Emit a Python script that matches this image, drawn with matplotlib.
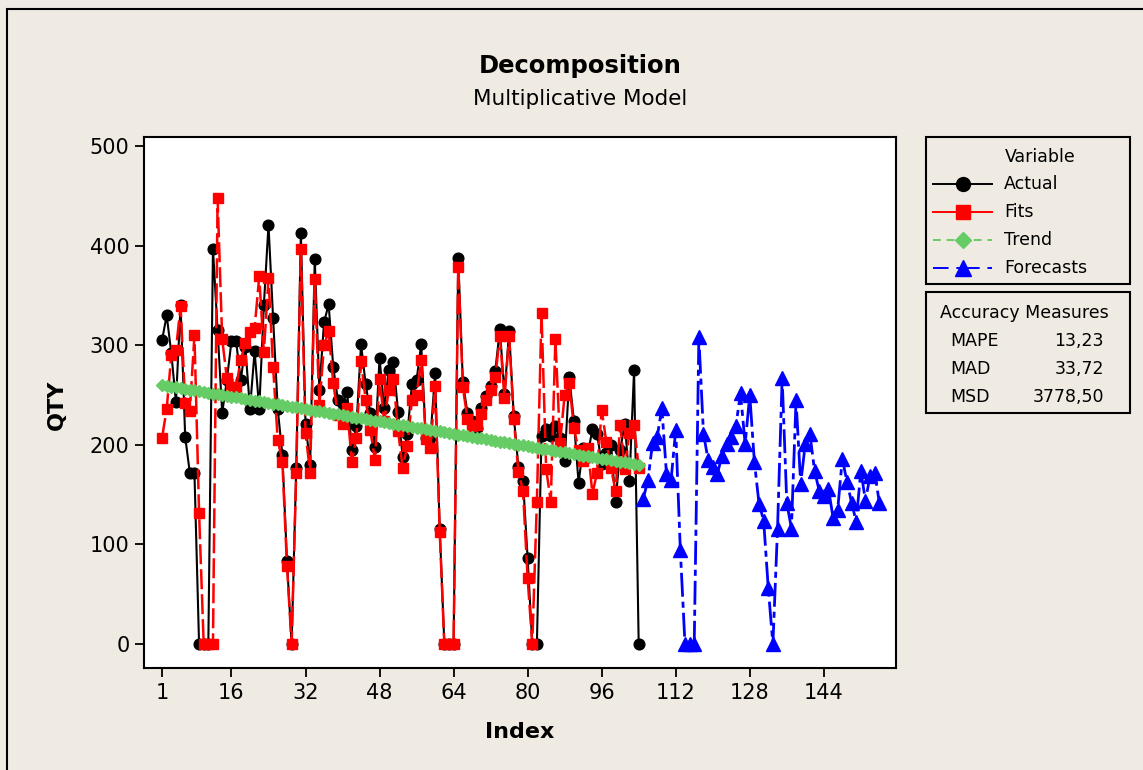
import matplotlib.pyplot as plt
from matplotlib.lines import Line2D
from matplotlib.patches import Rectangle

# observed series, index 1..104
actual = [
    305, 330, 292, 243, 340, 208, 172, 172, 0, 0, 0, 397, 315, 232, 265, 304,
    304, 265, 298, 236, 294, 236, 340, 421, 327, 236, 190, 83, 0, 177, 413, 221,
    180, 387, 255, 323, 341, 278, 245, 241, 253, 195, 219, 301, 261, 232, 198, 287,
    237, 275, 283, 233, 188, 211, 261, 265, 301, 207, 207, 272, 116, 0, 0, 0,
    388, 263, 232, 224, 217, 237, 249, 259, 274, 316, 251, 314, 229, 178, 164, 86,
    0, 0, 209, 216, 209, 219, 207, 184, 268, 224, 162, 197, 190, 216, 211, 181,
    192, 200, 143, 195, 221, 164, 275, 0,
]

fits = [
    207, 236, 290, 295, 339, 242, 234, 310, 132, 0, 0, 0, 448, 306, 267, 258,
    258, 285, 302, 313, 317, 369, 293, 367, 278, 205, 183, 78, 0, 172, 397, 212,
    172, 366, 240, 300, 314, 262, 230, 221, 237, 183, 207, 284, 245, 215, 185, 266,
    224, 255, 266, 214, 177, 199, 245, 250, 285, 206, 197, 259, 113, 0, 0, 0,
    379, 258, 226, 219, 220, 231, 245, 255, 268, 309, 247, 309, 226, 173, 154, 66,
    0, 143, 332, 176, 143, 306, 202, 250, 262, 217, 195, 184, 197, 151, 172, 235,
    203, 177, 154, 220, 176, 212, 220, 177,
]

trend = [
    260.0, 259.2, 258.4, 257.7, 256.9, 256.1, 255.3, 254.6, 253.8, 253.0,
    252.2, 251.5, 250.7, 249.9, 249.1, 248.3, 247.6, 246.8, 246.0, 245.2,
    244.5, 243.7, 242.9, 242.1, 241.4, 240.6, 239.8, 239.0, 238.3, 237.5,
    236.7, 235.9, 235.1, 234.4, 233.6, 232.8, 232.0, 231.3, 230.5, 229.7,
    228.9, 228.2, 227.4, 226.6, 225.8, 225.0, 224.3, 223.5, 222.7, 221.9,
    221.2, 220.4, 219.6, 218.8, 218.1, 217.3, 216.5, 215.7, 215.0, 214.2,
    213.4, 212.6, 211.8, 211.1, 210.3, 209.5, 208.7, 208.0, 207.2, 206.4,
    205.6, 204.9, 204.1, 203.3, 202.5, 201.7, 201.0, 200.2, 199.4, 198.6,
    197.9, 197.1, 196.3, 195.5, 194.8, 194.0, 193.2, 192.4, 191.7, 190.9,
    190.1, 189.3, 188.5, 187.8, 187.0, 186.2, 185.4, 184.7, 183.9, 183.1,
    182.3, 181.6, 180.8, 180.0,
]

# forecasts, index 105..156
forecasts = [
    146, 165, 202, 208, 237, 171, 165, 215, 94, 0, 0, 0, 308, 211, 185, 178,
    171, 189, 201, 208, 219, 252, 201, 250, 183, 141, 124, 56, 0, 116, 267, 142,
    116, 245, 161, 201, 211, 174, 154, 149, 156, 127, 135, 186, 163, 142, 123, 174,
    144, 169, 172, 142,
]

x_ticks = [1, 16, 32, 48, 64, 80, 96, 112, 128, 144]
y_ticks = [0, 100, 200, 300, 400, 500]

measure_names = ["MAPE", "MAD", "MSD"]
measure_values = ["13,23", "33,72", "3778,50"]

idx = list(range(1, len(actual) + 1))
idx_fc = list(range(len(actual) + 1, len(actual) + len(forecasts) + 1))

W, H = 1143, 770
BG = "#efebe2"

FIT_DASH = (0, (8, 2))
TREND_DASH = (0, (4, 3))
FC_DASH = (0, (8.6, 1.8, 2.2, 1.8))


def fx(x):
    return x / W


def fy(y):
    return 1 - y / H


fig = plt.figure(figsize=(W / 100, H / 100), dpi=100, facecolor=BG)
ax = fig.add_axes([fx(144), fy(668), fx(896) - fx(144), fy(137) - fy(668)])

ax.plot(idx, actual, color="black", lw=1.5, marker="o", ms=7.7, zorder=2)
ax.plot(idx, fits, color="#ff0000", lw=1.8, ls=FIT_DASH,
        marker="s", ms=7, mec="#ff0000", zorder=3)
ax.plot(idx, trend, color="#66cc66", lw=1.5, ls=TREND_DASH,
        marker="D", ms=6.6, mec="#66cc66", zorder=4)
ax.plot(idx_fc, forecasts, color="#0000ff", lw=2, ls=FC_DASH,
        marker="^", ms=9.5, mec="#0000ff", zorder=5)

ax.set_xlim(-2.9, 159.6)
ax.set_ylim(-24, 509)
ax.set_xticks(x_ticks)
ax.set_yticks(y_ticks)
ax.tick_params(direction="out", length=6.5, width=1.3, labelsize=15, pad=4)
for s in ax.spines.values():
    s.set_linewidth(1.5)

fig.text(fx(580), fy(66), "Decomposition", ha="center", va="center",
         fontsize=17.5, fontweight="bold")
fig.text(fx(580), fy(99), "Multiplicative Model", ha="center", va="center",
         fontsize=15.5)
fig.text(fx(520), fy(732), "Index", ha="center", va="center",
         fontsize=16, fontweight="bold")
fig.text(fx(57), fy(405), "QTY", ha="center", va="center", rotation=90,
         fontsize=16, fontweight="bold")

# outer frame (left and top edges)
fig.patches.append(Rectangle((fx(6.5), -0.1), 1.2, fy(9.5) + 0.1, fill=False,
                             ec="black", lw=1.5, transform=fig.transFigure))

# legend box
fig.patches.append(Rectangle((fx(926), fy(284)), fx(1130) - fx(926), fy(137) - fy(284),
                             fill=False, ec="black", lw=1.5, transform=fig.transFigure))
fig.text(fx(1005), fy(157), "Variable", ha="left", va="center", fontsize=12.5)

legend_rows = [
    ("Actual", "black", "-", "o", 10, 184),
    ("Fits", "#ff0000", "-", "s", 10, 212),
    ("Trend", "#66cc66", (0, (4, 3)), "D", 8.5, 240),
    ("Forecasts", "#0000ff", (0, (8, 4, 3, 1)), "^", 12, 268),
]
for label, col, style, mk, size, yr in legend_rows:
    fig.add_artist(Line2D([fx(933), fx(992)], [fy(yr), fy(yr)], color=col,
                          lw=1.4, ls=style, transform=fig.transFigure))
    fig.add_artist(Line2D([fx(962.5)], [fy(yr)], color=col, marker=mk, ms=size,
                          mec=col, transform=fig.transFigure))
    fig.text(fx(1004), fy(yr), label, ha="left", va="center", fontsize=12.5)

# accuracy measures box
fig.patches.append(Rectangle((fx(926), fy(413)), fx(1130) - fx(926), fy(292) - fy(413),
                             fill=False, ec="black", lw=1.5, transform=fig.transFigure))
fig.text(fx(940), fy(313), "Accuracy Measures", ha="left", va="center", fontsize=12.5)
for k, (name, val) in enumerate(zip(measure_names, measure_values)):
    yr = 341 + 28 * k
    fig.text(fx(950), fy(yr), name, ha="left", va="center", fontsize=12.5)
    fig.text(fx(1104), fy(yr), val, ha="right", va="center", fontsize=12.5)

fig.savefig("out.png", dpi=100, facecolor=BG)
